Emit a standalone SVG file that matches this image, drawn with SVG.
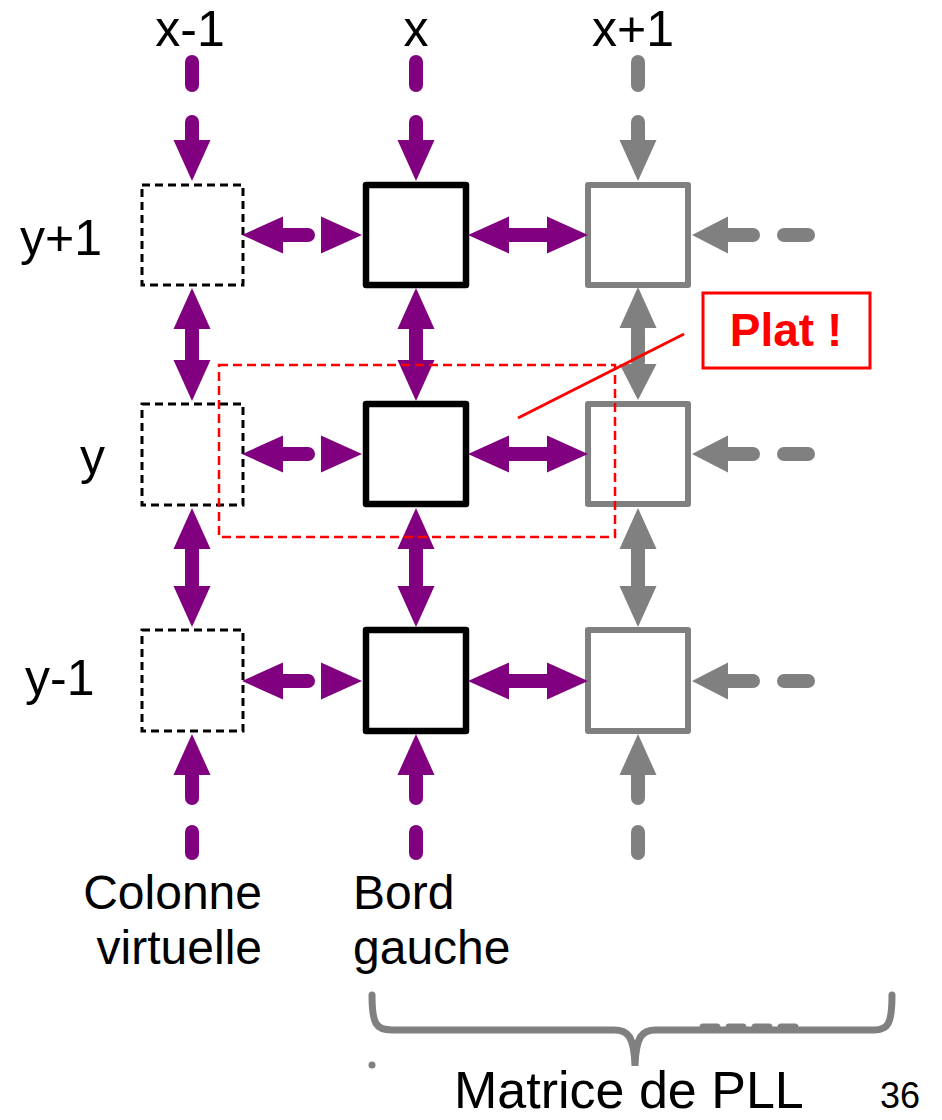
<svg xmlns="http://www.w3.org/2000/svg" xmlns:xlink="http://www.w3.org/1999/xlink" width="942" height="1120" viewBox="0 0 942 1120">
  <style>
    .lbl { font-family: "Liberation Sans", Arial, sans-serif; font-size: 50px; fill: #000; }
    .two { font-size: 48px; }
    .pu { fill: #800080; stroke: #800080; }
    .gr { fill: #808080; stroke: #808080; }
    .shaft { stroke-width: 14; stroke-linecap: round; fill: none; }
    .head { stroke: none; }
    .cell { fill: #fff; stroke: #000; stroke-width: 6.5; stroke-linejoin: round; }
    .cellg { fill: #fff; stroke: #808080; stroke-width: 6; stroke-linejoin: round; }
    .virt { fill: #fff; stroke: #000; stroke-width: 3; stroke-dasharray: 8 5; }
    .red { fill: none; stroke: #ff0000; }
  </style>
  <defs>
    <!-- arrowhead pointing +x, base at origin -->
    <path id="head" d="M0,-18.5 L41,0 L0,18.5 Z"/>
    <path id="heads" d="M0,-18.5 L36,0 L0,18.5 Z"/>
  </defs>

  <rect x="0" y="0" width="942" height="1120" fill="#fff"/>

  <!-- column / row labels -->
  <g id="labels">
    <text class="lbl" x="190" y="46" text-anchor="middle">x-1</text>
    <text class="lbl" x="416" y="46" text-anchor="middle">x</text>
    <text class="lbl" x="633" y="46" text-anchor="middle">x+1</text>
    <text class="lbl" x="20" y="255">y+1</text>
    <text class="lbl" x="80" y="474">y</text>
    <text class="lbl" x="25" y="695">y-1</text>
    <text class="lbl two" x="262" y="909" text-anchor="end">Colonne</text>
    <text class="lbl two" x="262" y="964" text-anchor="end">virtuelle</text>
    <text class="lbl two" x="353" y="909">Bord</text>
    <text class="lbl two" x="353" y="964">gauche</text>
    <text class="lbl" x="454" y="1108" style="font-size:52px">Matrice de PLL</text>
    <text class="lbl" x="880" y="1108" style="font-size:36px">36</text>
  </g>

  <!-- virtual column cells -->
  <g id="virt-top"><rect class="virt" x="142" y="185" width="101" height="100"/></g>
  <g id="virt-mid"><rect class="virt" x="142" y="404" width="101" height="101"/></g>
  <g id="virt-bot"><rect class="virt" x="142" y="630" width="101" height="101"/></g>

  <!-- left edge cells -->
  <g id="edge-top"><rect class="cell" x="366" y="185" width="100" height="100"/></g>
  <g id="edge-mid"><rect class="cell" x="366" y="404" width="100" height="100"/></g>
  <g id="edge-bot"><rect class="cell" x="366" y="630" width="100" height="101"/></g>

  <!-- PLL matrix cells -->
  <g id="pll-top"><rect class="cellg" x="588" y="185" width="100" height="100"/></g>
  <g id="pll-mid"><rect class="cellg" x="588" y="404" width="100" height="100"/></g>
  <g id="pll-bot"><rect class="cellg" x="588" y="630" width="100" height="101"/></g>

  <g id="connectors">
    <!-- purple: virtual column and left edge -->
    <g class="pu">
      <!-- vertical links, x = 192 and x = 416 -->
      <line class="shaft" x1="192" y1="62" x2="192" y2="85"/>
      <line class="shaft" x1="192" y1="122" x2="192" y2="140"/>
      <use class="head" href="#head" transform="translate(192,140) rotate(90)"/>
      <line class="shaft" x1="192" y1="329" x2="192" y2="360"/>
      <use class="head" href="#head" transform="translate(192,329) rotate(-90)"/>
      <use class="head" href="#head" transform="translate(192,360) rotate(90)"/>
      <line class="shaft" x1="192" y1="549" x2="192" y2="586"/>
      <use class="head" href="#head" transform="translate(192,549) rotate(-90)"/>
      <use class="head" href="#head" transform="translate(192,586) rotate(90)"/>
      <use class="head" href="#head" transform="translate(192,775) rotate(-90)"/>
      <line class="shaft" x1="192" y1="775" x2="192" y2="798"/>
      <line class="shaft" x1="192" y1="832" x2="192" y2="853"/>

      <line class="shaft" x1="416" y1="62" x2="416" y2="85"/>
      <line class="shaft" x1="416" y1="122" x2="416" y2="140"/>
      <use class="head" href="#head" transform="translate(416,140) rotate(90)"/>
      <line class="shaft" x1="416" y1="329" x2="416" y2="360"/>
      <use class="head" href="#head" transform="translate(416,329) rotate(-90)"/>
      <use class="head" href="#head" transform="translate(416,360) rotate(90)"/>
      <line class="shaft" x1="416" y1="549" x2="416" y2="586"/>
      <use class="head" href="#head" transform="translate(416,549) rotate(-90)"/>
      <use class="head" href="#head" transform="translate(416,586) rotate(90)"/>
      <use class="head" href="#head" transform="translate(416,775) rotate(-90)"/>
      <line class="shaft" x1="416" y1="775" x2="416" y2="798"/>
      <line class="shaft" x1="416" y1="832" x2="416" y2="853"/>

      <!-- horizontal links, rows y = 235 / 454 / 681 -->
      <use class="head" href="#head" transform="translate(283,235) rotate(180)"/>
      <line class="shaft" x1="283" y1="235" x2="308" y2="235"/>
      <use class="head" href="#head" transform="translate(321,235)"/>
      <use class="head" href="#head" transform="translate(509,235) rotate(180)"/>
      <line class="shaft" x1="509" y1="235" x2="547" y2="235"/>
      <use class="head" href="#head" transform="translate(547,235)"/>

      <use class="head" href="#head" transform="translate(283,454) rotate(180)"/>
      <line class="shaft" x1="283" y1="454" x2="308" y2="454"/>
      <use class="head" href="#head" transform="translate(321,454)"/>
      <use class="head" href="#head" transform="translate(509,454) rotate(180)"/>
      <line class="shaft" x1="509" y1="454" x2="547" y2="454"/>
      <use class="head" href="#head" transform="translate(547,454)"/>

      <use class="head" href="#head" transform="translate(283,681) rotate(180)"/>
      <line class="shaft" x1="283" y1="681" x2="308" y2="681"/>
      <use class="head" href="#head" transform="translate(321,681)"/>
      <use class="head" href="#head" transform="translate(509,681) rotate(180)"/>
      <line class="shaft" x1="509" y1="681" x2="547" y2="681"/>
      <use class="head" href="#head" transform="translate(547,681)"/>
    </g>

    <!-- grey: PLL matrix column x = 638 -->
    <g class="gr">
      <line class="shaft" x1="638" y1="62" x2="638" y2="85"/>
      <line class="shaft" x1="638" y1="122" x2="638" y2="140"/>
      <use class="head" href="#head" transform="translate(638,140) rotate(90)"/>
      <line class="shaft" x1="638" y1="329" x2="638" y2="362"/>
      <use class="head" href="#head" transform="translate(638,328) rotate(-90)"/>
      <use class="head" href="#heads" transform="translate(638,364) rotate(90)"/>
      <line class="shaft" x1="638" y1="549" x2="638" y2="586"/>
      <use class="head" href="#head" transform="translate(638,549) rotate(-90)"/>
      <use class="head" href="#head" transform="translate(638,586) rotate(90)"/>
      <use class="head" href="#head" transform="translate(638,775) rotate(-90)"/>
      <line class="shaft" x1="638" y1="775" x2="638" y2="798"/>
      <line class="shaft" x1="638" y1="832" x2="638" y2="853"/>

      <use class="head" href="#heads" transform="translate(728,235) rotate(180)"/>
      <line class="shaft" x1="728" y1="235" x2="753" y2="235"/>
      <line class="shaft" x1="784" y1="235" x2="808" y2="235"/>
      <use class="head" href="#heads" transform="translate(728,454) rotate(180)"/>
      <line class="shaft" x1="728" y1="454" x2="753" y2="454"/>
      <line class="shaft" x1="784" y1="454" x2="808" y2="454"/>
      <use class="head" href="#heads" transform="translate(728,681) rotate(180)"/>
      <line class="shaft" x1="728" y1="681" x2="753" y2="681"/>
      <line class="shaft" x1="784" y1="681" x2="808" y2="681"/>
    </g>
  </g>

  <!-- highlight and callout -->
  <g id="callout">
    <rect class="red" x="219" y="365" width="396" height="172" stroke-width="2.5" stroke-dasharray="9 5"/>
    <line class="red" x1="518" y1="418" x2="684" y2="334" stroke-width="3"/>
    <rect x="703" y="293" width="167" height="75" fill="#fff" stroke="#ff0000" stroke-width="3"/>
    <text x="786" y="346" text-anchor="middle" font-family="Liberation Sans, Arial, sans-serif" font-weight="bold" font-size="46" fill="#ff0000">Plat !</text>
  </g>

  <!-- brace under the matrix -->
  <g id="brace" fill="none" stroke="#808080" stroke-width="7" stroke-linecap="round">
    <path d="M372,995 C372,1024 376,1030 392,1030 L614,1030 C628,1030 634,1036 635,1066 C636,1036 642,1030 656,1030 L874,1030 C888,1030 892,1024 892,995"/>
    <line x1="703" y1="1027" x2="797" y2="1027" stroke-dasharray="14 12"/>
  </g>
  <circle cx="372" cy="1065" r="3.5" fill="#808080"/>
</svg>
